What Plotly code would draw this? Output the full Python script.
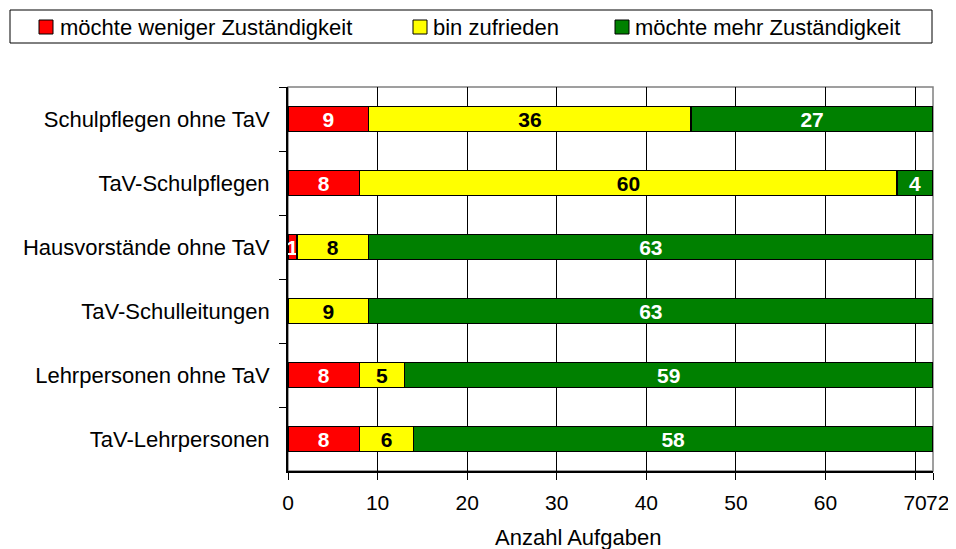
import plotly.graph_objects as go

categories = ["Schulpflegen ohne TaV", "TaV-Schulpflegen", "Hausvorstände ohne TaV",
              "TaV-Schulleitungen", "Lehrpersonen ohne TaV", "TaV-Lehrpersonen"]
weniger = [9, 8, 1, 0, 8, 8]
zufrieden = [36, 60, 8, 9, 5, 6]
mehr = [27, 4, 63, 63, 59, 58]
series_names = ["möchte weniger Zuständigkeit", "bin zufrieden", "möchte mehr Zuständigkeit"]
tick_vals = [0, 10, 20, 30, 40, 50, 60, 70, 72]
tick_text = ["0", "10", "20", "30", "40", "50", "60", "70", ""]
end_label = "72"
x_title = "Anzahl Aufgaben"

FONT = "Liberation Sans, Arial, sans-serif"
colors = ["#FF0000", "#FFFF00", "#008000"]
text_colors = ["white", "black", "white"]

OFF = 8  # page body margin
W, H = 956 - OFF, 549 - OFF
# desired plot area in screenshot pixels: x 288..933, y 87..471
L, R, T, B = 288 - OFF, W - (933 - OFF), 87 - OFF, H - (471 - OFF)
PW, PH = W - L - R, H - T - B


def px(x):
    return (x - OFF - L) / PW


def py(y):
    return (H - B - (y - OFF)) / PH


fig = go.Figure()
for name, vals, col, tcol in zip(series_names, [weniger, zufrieden, mehr], colors, text_colors):
    fig.add_trace(go.Bar(
        y=categories, x=vals, name=name, orientation="h",
        marker=dict(color=col, line=dict(color="black", width=1.5)),
        text=[str(v) if v else "" for v in vals],
        textposition="inside", insidetextanchor="middle", textangle=0,
        constraintext="none", cliponaxis=False,
        textfont=dict(family=FONT, size=21, color=tcol, weight="bold"),
        hoverinfo="x+y+name", showlegend=False,
    ))

# manual legend (box, swatches, labels)
shapes = [
    dict(type="rect", xref="paper", yref="paper", x0=0, x1=1, y0=0, y1=1,
         line=dict(color="#808080", width=1.5), layer="below"),
    dict(type="rect", xref="paper", yref="paper", x0=px(10), x1=px(932), y0=py(43), y1=py(10),
         line=dict(color="black", width=1), fillcolor="white"),
]
annotations = []
legend_pos = [(39, 58), (413, 431), (615, 633)]
for (sx, tx), name, col in zip(legend_pos, series_names, colors):
    shapes.append(dict(type="rect", xref="paper", yref="paper",
                       x0=px(sx), x1=px(sx + 14), y0=py(34), y1=py(20),
                       line=dict(color="black", width=1), fillcolor=col))
    annotations.append(dict(text=name, xref="paper", yref="paper", x=px(tx), y=py(27),
                            xanchor="left", yanchor="middle", showarrow=False,
                            font=dict(family=FONT, size=22, color="black")))

annotations.append(dict(text=x_title, xref="paper", yref="paper", x=px(578), y=py(537),
                        xanchor="center", yanchor="middle", showarrow=False,
                        font=dict(family=FONT, size=22, color="black")))
annotations.append(dict(text=end_label, xref="paper", yref="paper", x=px(925), y=py(502),
                        xanchor="left", yanchor="middle", showarrow=False, borderpad=0,
                        font=dict(family=FONT, size=21, color="black")))

fig.update_layout(
    barmode="stack", bargap=0.61,
    width=W, height=H,
    margin=dict(l=L, r=R, t=T, b=B, autoexpand=False),
    plot_bgcolor="white", paper_bgcolor="white",
    font=dict(family=FONT, size=22, color="black"),
    showlegend=False,
    xaxis=dict(
        range=[0, 72], tickvals=tick_vals, ticktext=tick_text, tickangle=0,
        showgrid=True, gridcolor="black", gridwidth=1,
        showline=True, linecolor="black", linewidth=1.5,
        ticks="outside", ticklen=7, tickcolor="black", ticklabelstandoff=5,
        zeroline=False, automargin=False,
        tickfont=dict(family=FONT, size=21),
    ),
    yaxis=dict(
        autorange="reversed", type="category",
        showline=True, linecolor="black", linewidth=1.5,
        ticks="outside", ticklen=7, tickcolor="black", tickson="boundaries",
        showgrid=False, ticksuffix="  ", automargin=False,
        tickfont=dict(family=FONT, size=22),
    ),
    shapes=shapes,
    annotations=annotations,
)

fig.write_html("out.html")
